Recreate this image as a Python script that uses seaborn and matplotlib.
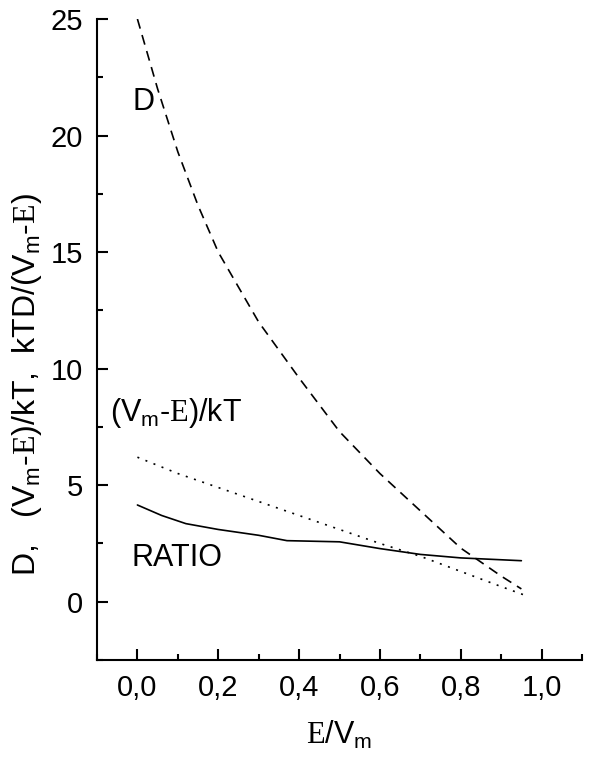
import numpy as np
import pandas as pd
import matplotlib
matplotlib.use("Agg")
import matplotlib.pyplot as plt
import seaborn as sns
from matplotlib.ticker import MultipleLocator, FuncFormatter

# values
x_d = [0.0, 0.05, 0.1, 0.15, 0.2, 0.3, 0.4, 0.5, 0.6, 0.7, 0.8, 0.9, 0.95]
d_vals = [25.0, 22.0, 19.3, 17.0, 15.0, 12.0, 9.6, 7.3, 5.5, 3.9, 2.3, 1.1, 0.55]

x_kt = [0.0, 0.1, 0.2, 0.3, 0.4, 0.5, 0.6, 0.7, 0.8, 0.9, 0.96]
kt_vals = [6.2, 5.5, 4.9, 4.3, 3.7, 3.1, 2.5, 1.95, 1.3, 0.65, 0.27]

x_ratio = [0.0, 0.06, 0.12, 0.2, 0.3, 0.37, 0.5, 0.6, 0.7, 0.8, 0.95]
ratio_vals = [4.15, 3.7, 3.35, 3.1, 2.85, 2.62, 2.57, 2.28, 2.03, 1.88, 1.76]

sns.set_style("ticks")
plt.rcParams['font.family'] = ['Liberation Sans', 'DejaVu Sans']
plt.rcParams['mathtext.fontset'] = 'custom'
plt.rcParams['mathtext.rm'] = 'Liberation Serif'
plt.rcParams['mathtext.sf'] = 'Liberation Sans'
plt.rcParams['text.color'] = 'black'
plt.rcParams['axes.labelcolor'] = 'black'

fig = plt.figure(figsize=(5.89, 7.65), dpi=100)
ax = fig.add_axes([97 / 589, 1 - 660 / 765, (582 - 97) / 589, (660 - 19) / 765])

lw = 1.2
sns.lineplot(x=x_d, y=d_vals, ax=ax, color='black', linewidth=lw, estimator=None, sort=False)
ax.lines[-1].set_dashes([6, 4])
sns.lineplot(x=x_kt, y=kt_vals, ax=ax, color='black', linewidth=lw, estimator=None, sort=False)
ax.lines[-1].set_dashes([1.2, 4])
sns.lineplot(x=x_ratio, y=ratio_vals, ax=ax, color='black', linewidth=lw, estimator=None, sort=False)

ax.set_xlim(-0.1, 1.1)
ax.set_ylim(-2.5, 25)
ax.xaxis.set_major_locator(MultipleLocator(0.2))
ax.xaxis.set_minor_locator(MultipleLocator(0.1))
ax.yaxis.set_major_locator(MultipleLocator(5))
ax.yaxis.set_minor_locator(MultipleLocator(2.5))
ax.xaxis.set_major_formatter(FuncFormatter(lambda v, p: f"{v:.1f}".replace('.', ',')))
ax.yaxis.set_major_formatter(FuncFormatter(lambda v, p: f"{v:.0f}"))

for s in ['top', 'right']:
    ax.spines[s].set_visible(False)
for s in ['left', 'bottom']:
    ax.spines[s].set_linewidth(1.5)
    ax.spines[s].set_color('black')

ax.tick_params(which='major', direction='in', length=8, width=1.5, labelsize=21, pad=10,
               colors='black', labelcolor='black')
ax.tick_params(which='minor', direction='in', length=4, width=1.5, colors='black')

ax.set_xlabel(r"$\mathrm{E}$/V$_{\mathsf{m}}$", fontsize=22, labelpad=12)
ax.set_ylabel(r"D,   (V$_{\mathsf{m}}$-$\mathrm{E}$)/kT,  kTD/(V$_{\mathsf{m}}$-$\mathrm{E}$)", fontsize=23)
ax.yaxis.set_label_coords(-0.11, 0.43)

ax.text(-0.012, 21.1, "D", fontsize=22, ha='left', va='baseline')
ax.text(-0.069, 7.76, r"(V$_{\mathsf{m}}$-$\mathrm{E}$)/kT", fontsize=22, ha='left', va='baseline')
ax.text(-0.015, 1.55, "RATIO", fontsize=22, ha='left', va='baseline')

fig.savefig("out.png", dpi=100)
